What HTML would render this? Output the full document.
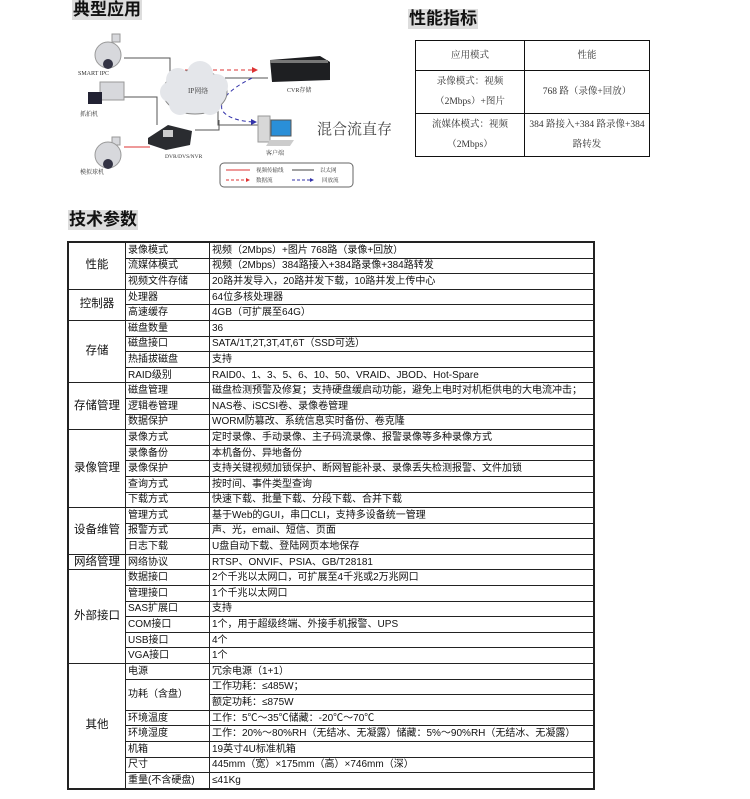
<!DOCTYPE html>
<html><head><meta charset="utf-8"><style>
body{margin:0;width:750px;height:799px;background:#fff;position:relative;overflow:hidden;font-family:"Liberation Sans","Noto Sans CJK SC",sans-serif;color:#111}
.ttl{position:absolute;font-size:17px;font-weight:bold;background:#ddd;line-height:20px;padding:0 1px}
table{border-collapse:collapse;position:absolute}
#t td{border:1px solid #222;font-size:10px;padding:0 2px;height:14.6px;line-height:13px;white-space:nowrap;overflow:hidden}
#t td.g{text-align:center;font-size:11.5px}
#p td{border:1.5px solid #111;font-size:9.5px;text-align:center;font-family:"Liberation Serif","Noto Serif CJK SC",serif;color:#333;line-height:20px}
svg text{font-family:"Liberation Serif","Noto Serif CJK SC",serif}
</style></head><body>
<div class="ttl" style="left:72px;top:0px">典型应用</div>
<div class="ttl" style="left:408px;top:9px">性能指标</div>
<div class="ttl" style="left:68px;top:210px">技术参数</div>

<svg width="750" height="200" style="position:absolute;left:0;top:0">
 <g stroke="#555" fill="none" stroke-width="1">
  <polyline points="124,58 170,58 170,80"/>
  <polyline points="124,97 157,97 157,125"/>
  <polyline points="219,120 219,130 195,130"/>
  <line x1="225" y1="78" x2="268" y2="78"/>
  <polyline points="218,105 218,125 258,125"/>
 </g>
 <line x1="124" y1="147" x2="150" y2="147" stroke="#d33" stroke-width="1"/>
 <line x1="178" y1="70" x2="252" y2="70" stroke="#d33" stroke-dasharray="4,3"/>
 <polygon points="252,67 258,70 252,73" fill="#d33"/>
 <path d="M252,78 Q218,95 222,110 Q228,120 252,122" stroke="#33a" fill="none" stroke-dasharray="4,3"/>
 <polygon points="251,119 257,122 251,125" fill="#33a"/>
 <g fill="#e4e6ea" stroke="#888">
  <ellipse cx="195" cy="92" rx="32" ry="22"/>
 </g>
 <g fill="#e4e6ea">
  <circle cx="178" cy="80" r="12"/><circle cx="200" cy="74" r="13"/><circle cx="216" cy="86" r="12"/><circle cx="210" cy="104" r="11"/><circle cx="180" cy="104" r="11"/><circle cx="170" cy="92" r="10"/>
 </g>
 <text x="188" y="93" font-size="7" fill="#444">IP网络</text>
 <g fill="#d7d8dc" stroke="#999">
  <rect x="112" y="34" width="8" height="8"/>
  <circle cx="108" cy="55" r="13"/>
  <rect x="100" y="82" width="24" height="18"/>
  <rect x="112" y="137" width="8" height="8"/>
  <circle cx="108" cy="155" r="13"/>
 </g>
 <rect x="88" y="92" width="14" height="12" fill="#223"/>
 <circle cx="108" cy="64" r="5" fill="#334"/>
 <circle cx="108" cy="164" r="5" fill="#334"/>
 <text x="78" y="75" font-size="6" fill="#333">SMART IPC</text>
 <text x="80" y="116" font-size="6" fill="#333">抓拍机</text>
 <text x="80" y="174" font-size="6" fill="#333">模拟球机</text>
 <polygon points="148,138 168,125 192,131 190,145 166,150 148,144" fill="#2a2c30"/>
 <rect x="163" y="130" width="10" height="7" fill="#ccc"/>
 <text x="165" y="158" font-size="5.5" fill="#333">DVR/DVS/NVR</text>
 <polygon points="270,60 320,56 330,62 330,80 272,82" fill="#1e1f22"/>
 <rect x="270" y="60" width="58" height="3" fill="#777"/>
 <text x="287" y="92" font-size="6" fill="#333">CVR存储</text>
 <rect x="258" y="116" width="12" height="26" fill="#d8d8d8" stroke="#999"/>
 <rect x="271" y="120" width="20" height="16" fill="#2a8fd8" stroke="#555"/>
 <polygon points="270,140 294,140 290,146 266,146" fill="#ccc"/>
 <text x="266" y="155" font-size="6" fill="#333">客户端</text>
 <text x="317" y="134" font-size="15" fill="#444">混合流直存</text>
 <rect x="220" y="163" width="133" height="24" rx="4" fill="#fff" stroke="#666"/>
 <line x1="226" y1="170" x2="250" y2="170" stroke="#d33"/>
 <text x="256" y="172" font-size="5.5" fill="#333">视频传输线</text>
 <line x1="292" y1="170" x2="314" y2="170" stroke="#444"/>
 <text x="320" y="172" font-size="5.5" fill="#333">以太网</text>
 <line x1="226" y1="180" x2="246" y2="180" stroke="#d33" stroke-dasharray="3,2"/>
 <polygon points="246,178 250,180 246,182" fill="#d33"/>
 <text x="256" y="182" font-size="5.5" fill="#333">数据流</text>
 <line x1="292" y1="180" x2="310" y2="180" stroke="#33a" stroke-dasharray="3,2"/>
 <polygon points="310,178 314,180 310,182" fill="#33a"/>
 <text x="322" y="182" font-size="5.5" fill="#333">回放流</text>
</svg>

<table id="p" style="left:415px;top:40px;width:235px">
<tr style="height:30px"><td style="width:106px">应用模式</td><td>性能</td></tr>
<tr style="height:40px"><td>录像模式：视频<br>（2Mbps）+图片</td><td>768 路（录像+回放）</td></tr>
<tr style="height:40px"><td>流媒体模式：视频<br>（2Mbps）</td><td>384 路接入+384 路录像+384<br>路转发</td></tr>
</table>

<table id="t" style="left:67px;top:241px;width:528px;border:2px solid #222">
<tr><td class="g" rowspan="3" style="width:52px">性能</td><td style="width:79px">录像模式</td><td>视频（2Mbps）+图片 768路（录像+回放）</td></tr>
<tr><td>流媒体模式</td><td>视频（2Mbps）384路接入+384路录像+384路转发</td></tr>
<tr><td>视频文件存储</td><td>20路并发导入，20路并发下载，10路并发上传中心</td></tr>
<tr><td class="g" rowspan="2">控制器</td><td>处理器</td><td>64位多核处理器</td></tr>
<tr><td>高速缓存</td><td>4GB（可扩展至64G）</td></tr>
<tr><td class="g" rowspan="4">存储</td><td>磁盘数量</td><td>36</td></tr>
<tr><td>磁盘接口</td><td>SATA/1T,2T,3T,4T,6T（SSD可选）</td></tr>
<tr><td>热插拔磁盘</td><td>支持</td></tr>
<tr><td>RAID级别</td><td>RAID0、1、3、5、6、10、50、VRAID、JBOD、Hot-Spare</td></tr>
<tr><td class="g" rowspan="3">存储管理</td><td>磁盘管理</td><td>磁盘检测预警及修复；支持硬盘缓启动功能，避免上电时对机柜供电的大电流冲击；</td></tr>
<tr><td>逻辑卷管理</td><td>NAS卷、iSCSI卷、录像卷管理</td></tr>
<tr><td>数据保护</td><td>WORM防篡改、系统信息实时备份、卷克隆</td></tr>
<tr><td class="g" rowspan="5">录像管理</td><td>录像方式</td><td>定时录像、手动录像、主子码流录像、报警录像等多种录像方式</td></tr>
<tr><td>录像备份</td><td>本机备份、异地备份</td></tr>
<tr><td>录像保护</td><td>支持关键视频加锁保护、断网智能补录、录像丢失检测报警、文件加锁</td></tr>
<tr><td>查询方式</td><td>按时间、事件类型查询</td></tr>
<tr><td>下载方式</td><td>快速下载、批量下载、分段下载、合并下载</td></tr>
<tr><td class="g" rowspan="3">设备维管</td><td>管理方式</td><td>基于Web的GUI，串口CLI，支持多设备统一管理</td></tr>
<tr><td>报警方式</td><td>声、光，email、短信、页面</td></tr>
<tr><td>日志下载</td><td>U盘自动下载、登陆网页本地保存</td></tr>
<tr><td class="g">网络管理</td><td>网络协议</td><td>RTSP、ONVIF、PSIA、GB/T28181</td></tr>
<tr><td class="g" rowspan="6">外部接口</td><td>数据接口</td><td>2个千兆以太网口，可扩展至4千兆或2万兆网口</td></tr>
<tr><td>管理接口</td><td>1个千兆以太网口</td></tr>
<tr><td>SAS扩展口</td><td>支持</td></tr>
<tr><td>COM接口</td><td>1个，用于超级终端、外接手机报警、UPS</td></tr>
<tr><td>USB接口</td><td>4个</td></tr>
<tr><td>VGA接口</td><td>1个</td></tr>
<tr><td class="g" rowspan="8">其他</td><td>电源</td><td>冗余电源（1+1）</td></tr>
<tr><td rowspan="2">功耗（含盘）</td><td>工作功耗：≤485W；</td></tr>
<tr><td>额定功耗：≤875W</td></tr>
<tr><td>环境温度</td><td>工作：5℃～35℃储藏：-20℃～70℃</td></tr>
<tr><td>环境湿度</td><td>工作：20%～80%RH（无结冰、无凝露）储藏：5%～90%RH（无结冰、无凝露）</td></tr>
<tr><td>机箱</td><td>19英寸4U标准机箱</td></tr>
<tr><td>尺寸</td><td>445mm（宽）×175mm（高）×746mm（深）</td></tr>
<tr><td>重量(不含硬盘)</td><td>≤41Kg</td></tr>
</table>
</body></html>
